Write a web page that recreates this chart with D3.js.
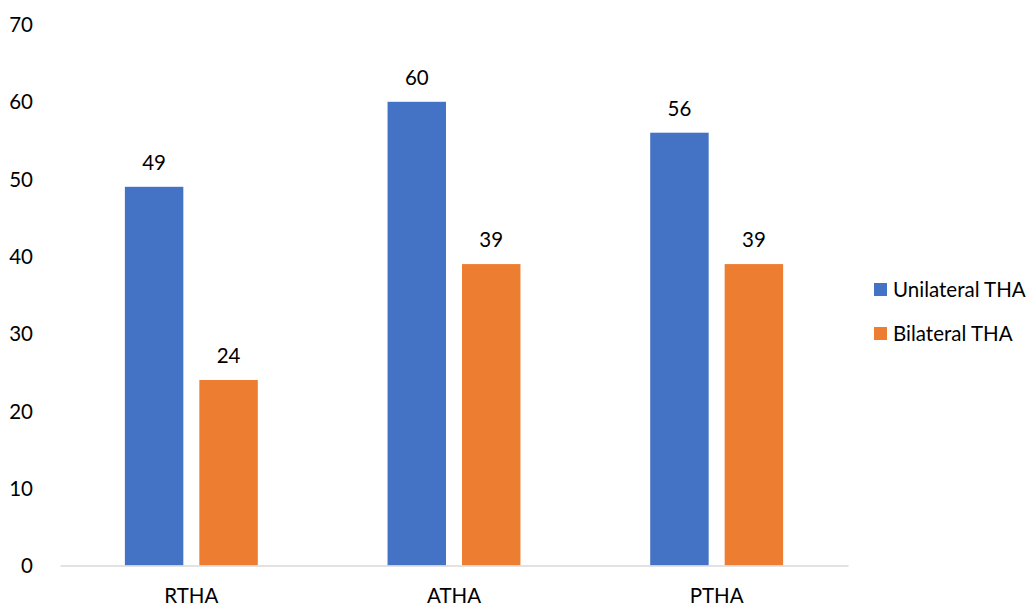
<!DOCTYPE html>
<html><head><meta charset="utf-8">
<script src="https://cdn.jsdelivr.net/npm/d3@7"></script>
<style>body{margin:0;background:#fff}svg{display:block}text{font-family:Lato,"Open Sans",sans-serif;fill:#000}</style>
</head><body><svg id="c" width="1030" height="605"></svg>
<script>
const categories = ["RTHA", "ATHA", "PTHA"];
const seriesNames = ["Unilateral THA", "Bilateral THA"];
const unilateral = [49, 60, 56];
const bilateral = [24, 39, 39];
const yTicks = [0, 10, 20, 30, 40, 50, 60, 70];
const colors = ["#4472C4", "#ED7D31"];

const svg = d3.select("#c");
const x0 = 60, x1 = 848, yBottom = 565.5, yTop = 24.5;
const x = d3.scaleBand().domain(categories).range([x0, x1]).paddingInner(0).paddingOuter(0);
const y = d3.scaleLinear().domain([0, 70]).range([yBottom, yTop]);
const bw = x.bandwidth();
const xs = d3.scaleBand().domain(seriesNames).range([bw * 0.247, bw * 0.753]).paddingInner(0.215).paddingOuter(0);

const values = [unilateral, bilateral];
const fs = 20.5;

// y axis labels
const yAxis = d3.axisLeft(y).tickValues(yTicks).tickSize(0).tickPadding(0);
const ga = svg.append("g").attr("transform", "translate(33,0)").call(yAxis);
ga.select(".domain").remove();
ga.selectAll("text").attr("font-size", fs).attr("font-family", "Lato").attr("fill", "#000").attr("dy", "0.35em");

// bars
categories.forEach((c, i) => {
  seriesNames.forEach((s, j) => {
    const v = values[j][i];
    const bx = x(c) + xs(s);
    svg.append("rect").attr("x", bx).attr("y", y(v)).attr("width", xs.bandwidth()).attr("height", y(0) - y(v))
      .attr("fill", colors[j]);
    svg.append("text").attr("x", bx + xs.bandwidth() / 2).attr("y", y(v) - 17)
      .attr("text-anchor", "middle").attr("font-size", fs).text(v);
  });
});

// x axis
const xAxis = d3.axisBottom(x).tickSize(0).tickPadding(0);
const gx = svg.append("g").attr("transform", `translate(0,${yBottom})`).call(xAxis);
gx.select(".domain").attr("stroke", "#d9d9d9").attr("stroke-width", 1.5);
gx.selectAll("text").attr("font-size", fs).attr("font-family", "Lato").attr("fill", "#000").attr("y", 37).attr("dy", 0);

// legend
const leg = svg.append("g");
seriesNames.forEach((s, j) => {
  const cy = 289.5 + j * 44;
  leg.append("rect").attr("x", 874).attr("y", cy - 6.5).attr("width", 13).attr("height", 13).attr("fill", colors[j]);
  leg.append("text").attr("x", 893).attr("y", cy).attr("dy", "0.35em").attr("font-size", fs).text(s);
});
</script></body></html>
